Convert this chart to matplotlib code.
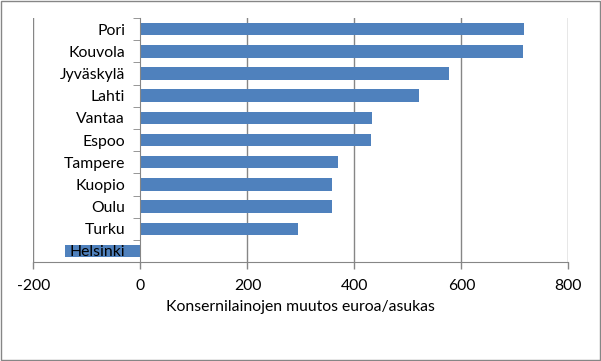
import matplotlib.pyplot as plt
import numpy as np
from matplotlib.patches import Rectangle

# Kaupungit ja konsernilainojen muutos (euroa/asukas)
cities = ["Pori", "Kouvola", "Jyväskylä", "Lahti", "Vantaa", "Espoo",
          "Tampere", "Kuopio", "Oulu", "Turku", "Helsinki"]
values = [717, 715, 577, 521, 433, 431, 369, 358, 358, 295, -141]
xticks = [-200, 0, 200, 400, 600, 800]

plt.rcParams["font.family"] = ["Lato", "DejaVu Sans"]
FS = 11.3

fig = plt.figure(figsize=(6.01, 3.61), dpi=100)
ax = fig.add_axes([0.0557, 0.274, 0.89, 0.676])

y = np.arange(len(cities))
ax.barh(y, values, height=0.56, color="#4F81BD", zorder=1)

ax.set_xlim(-200, 800)
ax.set_ylim(len(cities) - 0.5, -0.5)
ax.set_xticks(xticks)
ax.set_xticklabels([str(t) for t in xticks], fontsize=FS)
ax.tick_params(axis="x", direction="out", length=5, width=1,
               color="#868686", pad=7)

# Pystyakseli nollakohdassa
ax.spines["left"].set_position(("data", 0))
ax.spines["left"].set_color("#868686")
ax.spines["bottom"].set_color("#868686")
ax.spines["top"].set_visible(False)
ax.spines["right"].set_visible(False)

ax.set_yticks(y)
ax.set_yticklabels(cities, fontsize=FS)
ax.tick_params(axis="y", which="major", length=0, pad=11)
ax.set_yticks(np.arange(-0.5, len(cities), 1.0), minor=True)
ax.tick_params(axis="y", which="minor", direction="out", length=5,
               color="#868686")

for t in [-200, 200, 400, 600, 800]:
    ax.axvline(t, color="#868686", linewidth=1, zorder=0.5)

ax.set_xlabel("Konsernilainojen muutos euroa/asukas", fontsize=FS,
              labelpad=5)

# Kaavion reunus
fig.patches.append(Rectangle((0.002, 0.003), 0.996, 0.994,
                             transform=fig.transFigure, fill=False,
                             edgecolor="#868686", linewidth=1))

fig.savefig("out.png", dpi=100)
